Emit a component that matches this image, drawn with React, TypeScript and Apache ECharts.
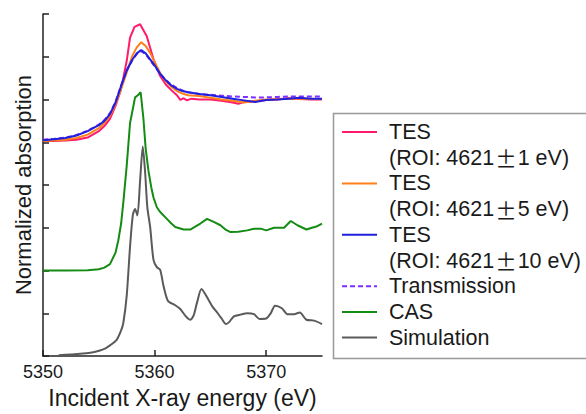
import React, { useEffect, useRef } from "react";
import * as echarts from "echarts";

// ---- Data ----
const xTickValues = [5350, 5360, 5370];

const tes1Energy = [5350, 5351, 5352, 5353, 5354, 5355, 5355.5, 5356, 5356.5, 5357, 5357.5, 5357.8, 5358.2, 5358.7, 5359.3, 5359.9, 5360.5, 5361, 5361.5, 5362, 5362.3, 5362.6, 5362.9, 5363.3, 5364, 5365, 5366, 5367, 5367.5, 5368, 5369, 5370, 5371, 5372, 5373, 5374, 5375];
const tes1Values = [5.03, 5.03, 5.04, 5.06, 5.11, 5.26, 5.38, 5.55, 5.85, 6.25, 6.9, 7.45, 7.7, 7.76, 7.48, 6.94, 6.55, 6.35, 6.22, 6.1, 5.99, 6.03, 5.98, 6.02, 6.0, 6.0, 5.97, 5.93, 5.9, 5.94, 5.96, 5.99, 6.0, 6.03, 6.01, 6.0, 6.0];

const tes5Energy = [5350, 5351, 5352, 5353, 5354, 5355, 5355.5, 5356, 5356.5, 5357, 5357.5, 5358, 5358.4, 5358.8, 5359.2, 5359.6, 5360, 5360.5, 5361, 5361.5, 5362, 5362.5, 5363, 5364, 5365, 5366, 5367, 5368, 5369, 5370, 5371, 5372, 5373, 5374, 5375];
const tes5Values = [5.03, 5.04, 5.06, 5.1, 5.18, 5.33, 5.45, 5.62, 5.88, 6.25, 6.63, 7.02, 7.22, 7.34, 7.25, 7.09, 6.88, 6.62, 6.43, 6.3, 6.2, 6.14, 6.1, 6.08, 6.04, 6.0, 5.97, 5.93, 5.97, 6.0, 6.01, 6.02, 6.02, 6.01, 6.01];

const tes10Energy = [5350, 5351, 5352, 5353, 5354, 5355, 5355.5, 5356, 5356.5, 5357, 5357.5, 5358, 5358.4, 5358.8, 5359.2, 5359.6, 5360, 5360.5, 5361, 5361.5, 5362, 5362.5, 5363, 5364, 5365, 5366, 5367, 5368, 5369, 5370, 5371, 5372, 5373, 5374, 5375];
const tes10Values = [5.05, 5.07, 5.1, 5.16, 5.26, 5.4, 5.5, 5.66, 5.93, 6.32, 6.68, 6.93, 7.08, 7.16, 7.08, 6.94, 6.8, 6.6, 6.45, 6.33, 6.25, 6.2, 6.17, 6.13, 6.1, 6.06, 6.02, 5.98, 5.94, 5.99, 6.0, 6.02, 6.04, 6.02, 6.02];

const transEnergy = [5350, 5351, 5352, 5353, 5354, 5355, 5355.5, 5356, 5356.5, 5357, 5357.5, 5358, 5358.4, 5358.8, 5359.2, 5359.6, 5360, 5360.5, 5361, 5361.5, 5362, 5362.5, 5363, 5364, 5365, 5366, 5367, 5368, 5369, 5370, 5371, 5372, 5373, 5374, 5375];
const transValues = [5.06, 5.08, 5.11, 5.17, 5.27, 5.41, 5.52, 5.68, 5.95, 6.33, 6.68, 6.92, 7.06, 7.13, 7.06, 6.92, 6.78, 6.6, 6.46, 6.35, 6.27, 6.21, 6.17, 6.13, 6.11, 6.09, 6.07, 6.06, 6.05, 6.05, 6.06, 6.07, 6.07, 6.07, 6.07];

const casEnergy = [5350, 5352, 5354, 5355, 5355.5, 5356, 5356.5, 5356.75, 5357, 5357.2, 5357.5, 5357.8, 5358.1, 5358.25, 5358.5, 5358.75, 5359.0, 5359.2, 5359.45, 5359.7, 5359.9, 5360.2, 5360.5, 5361.1, 5361.5, 5361.85, 5362.6, 5363.2, 5363.6, 5364.1, 5364.7, 5365.3, 5365.9, 5366.4, 5366.8, 5367.5, 5368.3, 5368.9, 5369.5, 5370.0, 5370.7, 5371.6, 5372.2, 5372.8, 5373.6, 5374.1, 5374.5, 5375];
const casValues = [2.0, 2.0, 2.01, 2.03, 2.07, 2.15, 2.42, 2.71, 3.1, 3.6, 4.45, 5.45, 5.85, 6.05, 6.1, 6.17, 5.55, 4.85, 4.33, 3.95, 3.71, 3.48, 3.37, 3.21, 3.1, 3.02, 2.96, 2.96, 3.02, 3.1, 3.21, 3.14, 3.06, 2.95, 2.9, 2.91, 2.94, 2.98, 2.98, 2.94, 3.0, 3.0, 3.16, 3.06, 2.96, 3.0, 3.03, 3.1];

const simEnergy = [5351.4, 5352.5, 5353.6, 5354.5, 5355.1, 5355.6, 5356.0, 5356.6, 5357.0, 5357.2, 5357.5, 5357.8, 5358.05, 5358.25, 5358.46, 5358.7, 5358.94, 5359.15, 5359.35, 5359.6, 5359.9, 5360.2, 5360.5, 5360.8, 5361.2, 5361.85, 5362.3, 5362.8, 5363.2, 5363.5, 5363.8, 5364.2, 5364.8, 5365.2, 5365.6, 5366.0, 5366.4, 5366.7, 5367.1, 5367.7, 5368.3, 5368.9, 5369.4, 5370.0, 5370.4, 5370.8, 5371.4, 5371.9, 5372.5, 5373.0, 5373.6, 5374.3, 5375];
const simValues = [0.02, 0.04, 0.06, 0.09, 0.13, 0.18, 0.25, 0.38, 0.6, 0.78, 1.41, 2.56, 3.3, 3.44, 3.29, 4.1, 4.9, 4.3, 3.48, 3.02, 2.25, 2.08, 2.02, 1.64, 1.29, 1.19, 1.1, 0.93, 0.85, 0.95, 1.25, 1.57, 1.33, 1.15, 1.02, 0.88, 0.75, 0.8, 0.93, 0.97, 1.0, 0.98, 0.87, 0.88, 1.0, 1.18, 1.12, 0.98, 0.98, 1.02, 0.85, 0.83, 0.75];

const seriesNames = ["TES (ROI: 4621±1 eV)", "TES (ROI: 4621±5 eV)", "Transmission", "TES (ROI: 4621±10 eV)", "CAS", "Simulation"];
const seriesColors = ["#ff1a6c", "#ff7f1a", "#7f2fff", "#1f1fdc", "#148c14", "#5a5a5a"];

const legendRows = [
  { lines: ["TES", "(ROI: 4621{pm|±}1 eV)"], color: "#ff1a6c", dashed: false },
  { lines: ["TES", "(ROI: 4621{pm|±}5 eV)"], color: "#ff7f1a", dashed: false },
  { lines: ["TES", "(ROI: 4621{pm|±}10 eV)"], color: "#1f1fdc", dashed: false },
  { lines: ["Transmission"], color: "#7f2fff", dashed: true },
  { lines: ["CAS"], color: "#148c14", dashed: false },
  { lines: ["Simulation"], color: "#5a5a5a", dashed: false },
];

const zip = (xs: number[], ys: number[]) => xs.map((x, i) => [x, ys[i]]);

const FONT = "'Liberation Sans', Arial, Helvetica, sans-serif";

export default function App() {
  const ref = useRef<HTMLDivElement>(null);

  useEffect(() => {
    if (!ref.current) return;
    const chart = echarts.init(ref.current, null, { renderer: "svg" });

    const dataSets = [
      zip(tes1Energy, tes1Values),
      zip(tes5Energy, tes5Values),
      zip(transEnergy, transValues),
      zip(tes10Energy, tes10Values),
      zip(casEnergy, casValues),
      zip(simEnergy, simValues),
    ];

    const series = dataSets.map((d, i) => ({
      name: seriesNames[i],
      type: "line",
      data: d,
      showSymbol: false,
      symbol: "none",
      smooth: i === 5 ? 0.25 : false,
      lineStyle: {
        color: seriesColors[i],
        width: 2,
        type: seriesNames[i] === "Transmission" ? [5, 3] : "solid",
      },
      z: 2 + i,
    }));

    // Legend drawn as graphic elements (box, line samples, text)
    const rowH = 25.7;
    const legendTop = 132;
    const legendX = 333.5;
    const graphics: any[] = [
      {
        type: "rect",
        shape: { x: legendX, y: 113.5, width: 260, height: 245 },
        style: { fill: "#fff", stroke: "#999", lineWidth: 1.5 },
        z: 10,
      },
    ];
    let row = 0;
    legendRows.forEach((item) => {
      const cy = legendTop + row * rowH;
      graphics.push({
        type: "line",
        shape: { x1: 342, y1: cy, x2: 377, y2: cy },
        style: { stroke: item.color, lineWidth: 2, lineDash: item.dashed ? [5, 3] : null },
        z: 11,
      });
      item.lines.forEach((t, k) => {
        graphics.push({
          type: "text",
          x: 389,
          y: cy + k * rowH,
          style: {
            text: t,
            fill: "#1a1a1a",
            font: `21.5px ${FONT}`,
            verticalAlign: "middle",
            align: "left",
            rich: {
              pm: {
                fontFamily: "'Noto Sans CJK JP', 'Liberation Sans', sans-serif",
                fontSize: 21.5,
                fill: "#1a1a1a",
                padding: [0, 1, 0, 1],
              },
            },
          },
          z: 11,
        });
      });
      row += item.lines.length;
    });

    chart.setOption({
      animation: false,
      backgroundColor: "#ffffff",
      textStyle: { fontFamily: FONT },
      grid: { left: 43, right: 264, top: 14, bottom: 53, containLabel: false },
      xAxis: {
        type: "value",
        min: 5350,
        max: 5375,
        name: "Incident X-ray energy (eV)",
        nameLocation: "middle",
        nameGap: 28,
        nameTextStyle: { fontSize: 23, color: "#1a1a1a", fontFamily: FONT },
        axisLine: { lineStyle: { color: "#222", width: 1.5 } },
        axisTick: { show: true, inside: true, length: 6, customValues: xTickValues, lineStyle: { color: "#222", width: 1.5 } },
        axisLabel: {
          fontSize: 18,
          color: "#1a1a1a",
          margin: 7,
          customValues: xTickValues,
          fontFamily: FONT,
          formatter: (v: number) => String(v),
        },
        splitLine: { show: false },
      },
      yAxis: {
        type: "value",
        min: 0,
        max: 8,
        interval: 1,
        name: "Normalized absorption",
        nameLocation: "middle",
        nameGap: 9,
        nameTextStyle: { fontSize: 22, color: "#1a1a1a", fontFamily: FONT },
        axisLine: { show: true, lineStyle: { color: "#222", width: 1.5 } },
        axisTick: { show: true, inside: true, length: 6, lineStyle: { color: "#222", width: 1.5 } },
        axisLabel: { show: false },
        splitLine: { show: false },
      },
      series,
      graphic: graphics,
    });

    return () => chart.dispose();
  }, []);

  return (
    <div
      ref={ref}
      style={{ position: "fixed", left: 0, top: 0, width: 586, height: 414, background: "#fff" }}
    />
  );
}
